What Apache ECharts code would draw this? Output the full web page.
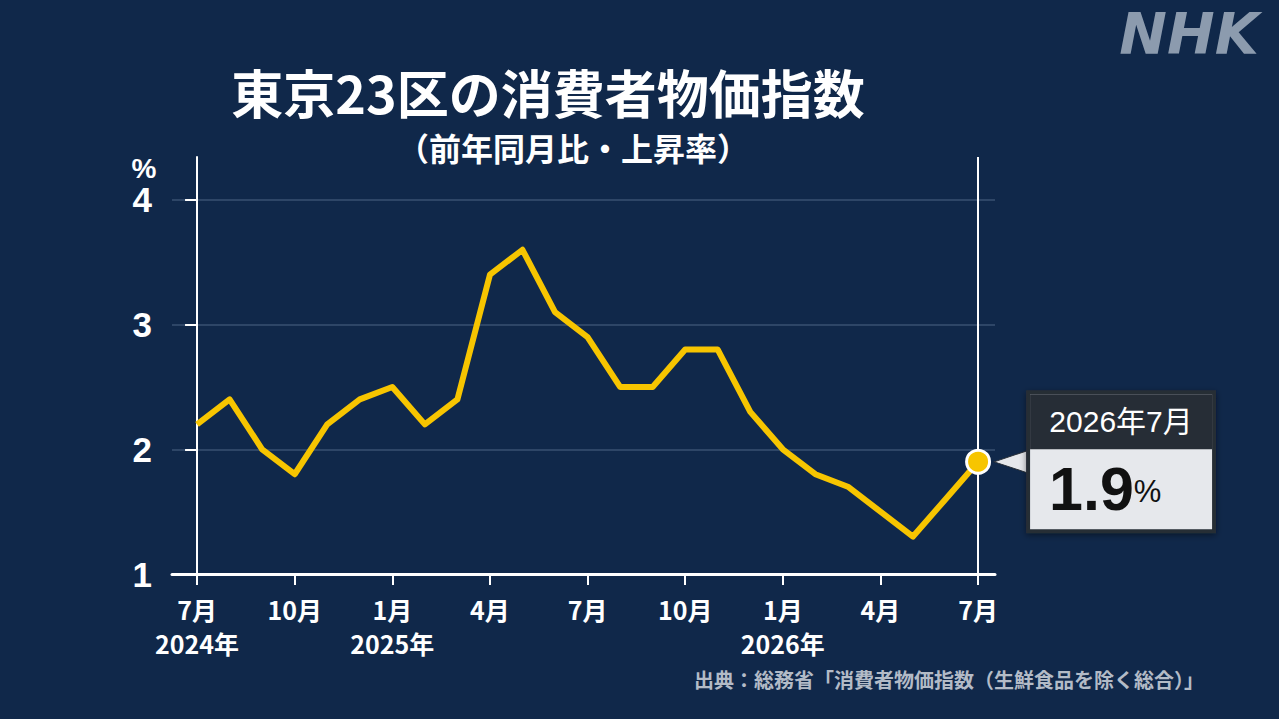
<!DOCTYPE html>
<html><head><meta charset="utf-8">
<script src="https://cdn.jsdelivr.net/npm/echarts@6/dist/echarts.min.js"></script>
<style>html,body{margin:0;padding:0;background:#10284a;}#c{width:1279px;height:719px;}</style>
</head><body><div id="c"></div>
<script>
const titleText = '東京23区の消費者物価指数';
const subtitleText = '（前年同月比・上昇率）';
const sourceText = '出典：総務省「消費者物価指数（生鮮食品を除く総合）」';
const unitText = '%';
const logoText = 'NHK';
// monthly values, 2024年7月 .. 2026年7月
const values = [2.2,2.4,2.0,1.8,2.2,2.4,2.5,2.2,2.4,3.4,3.6,3.1,2.9,2.5,2.5,2.8,2.8,2.3,2.0,1.8,1.7,1.5,1.3,1.6,1.9];
const tickIndex = [0,3,6,9,12,15,18,21,24];
const tickLabels = ['7月\n2024年','10月','1月\n2025年','4月','7月','10月','1月\n2026年','4月','7月'];
const yTicks = [1,2,3,4];
const lastLabel = '2026年7月';

const FONT = '"Noto Sans CJK JP", "Noto Sans", sans-serif';
const NUMFONT = '"Liberation Sans", "Noto Sans CJK JP", sans-serif';
const lastIdx = values.length - 1;
const lastVal = values[lastIdx];
const chart = echarts.init(document.getElementById('c'), null, {renderer:'svg'});
chart.setOption({
  backgroundColor:'#10284a',
  animation:false,
  textStyle:{fontFamily:FONT},
  title:[
    {text:titleText, left:543, top:58, textAlign:'center',
     textStyle:{color:'#fff', fontSize:52, lineHeight:56, fontWeight:'bold', fontFamily:FONT}},
    {text:subtitleText, left:568, top:126, textAlign:'center',
     textStyle:{color:'#fff', fontSize:32, lineHeight:32, fontWeight:'bold', fontFamily:FONT}},
    {text:logoText, left:1177, top:1, textAlign:'center', padding:[4,12,4,12],
     textStyle:{color:'#8c9bae', fontSize:57, lineHeight:58, fontWeight:'bold', fontStyle:'italic', fontFamily:'"DejaVu Sans", sans-serif'}},
    {text:sourceText, right:70, top:663,
     textStyle:{color:'#b3bbc7', fontSize:20, lineHeight:22, fontWeight:'bold', fontFamily:FONT}},
    {text:unitText, left:139, top:148, textAlign:'center',
     textStyle:{color:'#fff', fontSize:28, lineHeight:30, fontWeight:'bold', fontFamily:NUMFONT}}
  ],
  grid:{left:172, right:284, top:157, bottom:145},
  xAxis:{
    type:'value', min:-0.77, max:24.52,
    axisLine:{show:true, lineStyle:{color:'#fff', width:3}},
    axisTick:{show:true, customValues:tickIndex, length:11, lineStyle:{color:'#fff', width:2}},
    axisLabel:{customValues:tickIndex, color:'#fff', fontSize:25, fontWeight:'bold', lineHeight:34, margin:18,
      fontFamily:FONT,
      formatter:(v)=>{const k=tickIndex.indexOf(Math.round(v)); return k>=0?tickLabels[k]:'';}},
    splitLine:{show:false}
  },
  yAxis:{
    type:'value', min:1, max:4.344, interval:1,
    axisLine:{show:true, lineStyle:{color:'#fff', width:2}},
    axisTick:{show:true, customValues:yTicks, length:12, lineStyle:{color:'#fff', width:2}},
    axisLabel:{customValues:yTicks, color:'#fff', fontSize:35, fontWeight:'bold', margin:20, fontFamily:NUMFONT},
    splitLine:{show:true, showMaxLine:true, showMinLine:false, lineStyle:{color:'#2e4667', width:2}}
  },
  series:[
    {type:'line', data:values.map((v,i)=>[i,v]), symbol:'none', z:3,
     lineStyle:{color:'#f7c500', width:6, join:'round'},
     markLine:{silent:true, symbol:'none', label:{show:false}, lineStyle:{color:'#fff', width:2, type:'solid'},
       data:[{xAxis:lastIdx}]}},
    {type:'scatter', data:[[lastIdx,lastVal]], symbol:'triangle', symbolSize:[24,36], symbolRotate:90,
     symbolOffset:[34,0], z:4, itemStyle:{color:'#e6e8ec', opacity:1, borderColor:'#262d36', borderWidth:1}, silent:true},
    {type:'scatter', data:[[lastIdx,lastVal]], symbol:'circle', symbolSize:23, z:5,
     itemStyle:{color:'#f7c500', opacity:1, borderColor:'#fff', borderWidth:3},
     label:{show:true, position:'right', distance:39,
       formatter:()=>'{t|'+lastLabel+'}\n{v|'+lastVal.toFixed(1)+'}{p|%}',
       backgroundColor:'#e6e8ec', borderColor:'#262d36', borderWidth:4,
       shadowColor:'rgba(0,0,0,0.45)', shadowBlur:6, shadowOffsetY:2,
       rich:{
         t:{width:182, height:55, lineHeight:55, align:'center', backgroundColor:'#262d36', color:'#fff', fontSize:30, fontFamily:NUMFONT},
         v:{height:75, lineHeight:75, fontSize:61, fontWeight:'bold', color:'#111', padding:[0,0,0,19], fontFamily:NUMFONT, align:'left'},
         p:{height:75, lineHeight:80, fontSize:31, color:'#111', fontFamily:NUMFONT, align:'left', verticalAlign:'bottom'}
       }}}
  ]
});
</script></body></html>
